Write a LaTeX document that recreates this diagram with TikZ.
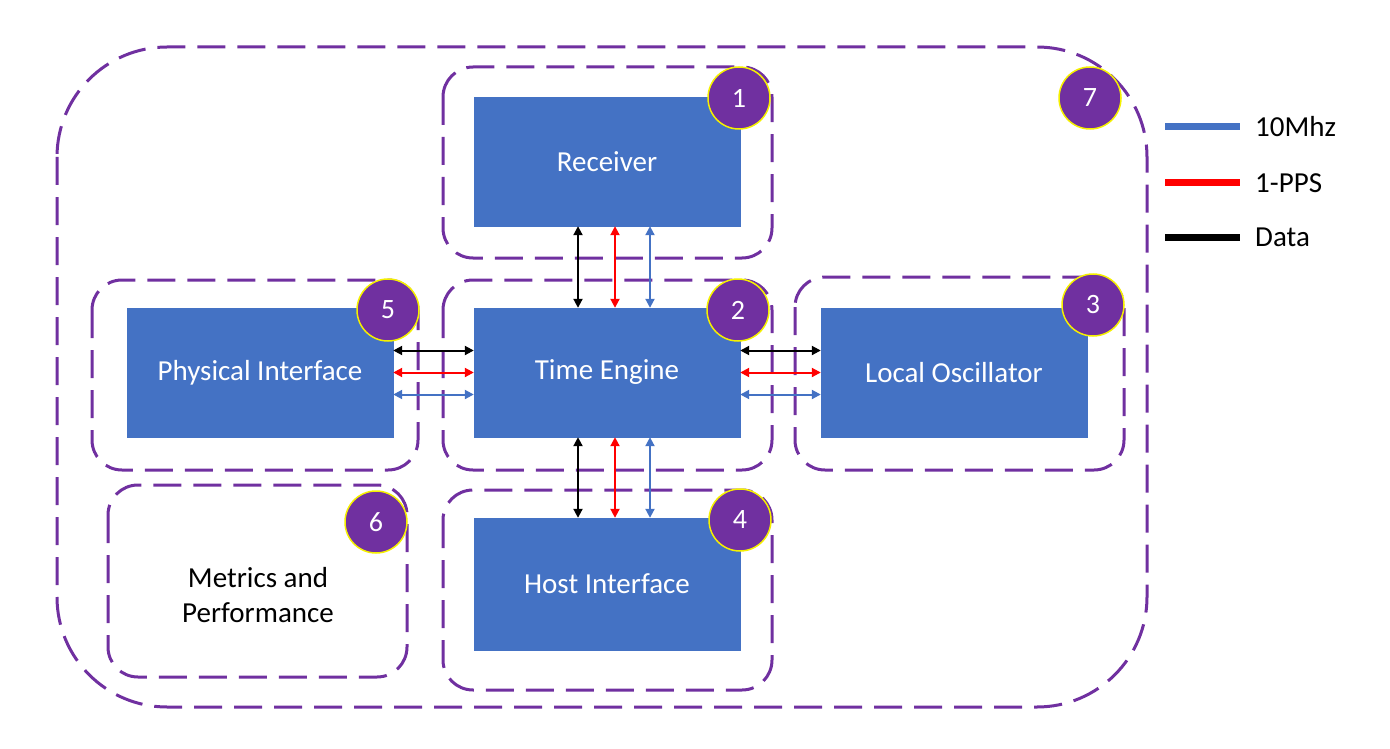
\documentclass[tikz,border=0pt]{standalone}
\usepackage{fontspec}
\setmainfont{Carlito}
\usetikzlibrary{calc,arrows.meta}
\definecolor{boxblue}{HTML}{4472C4}
\definecolor{grpurple}{HTML}{7030A0}
\definecolor{badgey}{HTML}{F5F000}
\tikzset{
  grp/.style={draw=grpurple, line width=3pt, dash pattern=on 28pt off 12pt, rounded corners=30pt},
  blk/.style={fill=boxblue, draw=boxblue, text=white, minimum width=266pt, minimum height=129pt, inner sep=0pt, font=\fontsize{29}{35}\selectfont},
  badge/.style={circle, fill=grpurple, draw=badgey, line width=1.5pt, minimum size=62pt, inner sep=0pt, text=white, font=\fontsize{28}{33}\selectfont},
  conn/.style={line width=2pt, {Triangle[length=9pt,width=9pt]}-{Triangle[length=9pt,width=9pt]}},
  leg/.style={line width=7pt},
  legtxt/.style={anchor=west, font=\fontsize{29}{35}\selectfont, inner sep=0pt}
}
\begin{document}
\begin{tikzpicture}[x=1pt,y=-1pt]
\useasboundingbox (0,0) rectangle (1390,749);
% groups
\draw[grp, rounded corners=110pt] (57,47) rectangle (1147,707);
\draw[grp] (443,67) rectangle (772,258);
\draw[grp] (443,280) rectangle (772,470);
\draw[grp] (795,277) rectangle (1124,470);
\draw[grp] (92,280) rectangle (418,470);
\draw[grp] (443,490) rectangle (772,690);
\draw[grp] (108,485) rectangle (407,677);
% blocks
\node[blk] (rec) at (607,161.5) {Receiver};
\node[blk] (te) at (607,372.5) {Time Engine};
\node[blk] (lo) at (954,372.5) {Local Oscillator};
\node[blk] (pi) at (260,372.5) {Physical Interface};
\node[blk, minimum height=132pt] (hi) at (607,584) {Host Interface};
\node[font=\fontsize{29}{35}\selectfont, align=center] (mp) at (258,595) {Metrics and\\Performance};
% connectors
\foreach \dx/\col in {-29/black, 8/red, 43/boxblue} {
  \draw[conn, draw=\col, fill=\col] ($(rec.south)+(\dx,0)$) -- ($(te.north)+(\dx,0)$);
  \draw[conn, draw=\col, fill=\col] ($(te.south)+(\dx,0)$) -- ($(hi.north)+(\dx,0)$);
}
\foreach \dy/\col in {-22/black, 0/red, 22/boxblue} {
  \draw[conn, draw=\col, fill=\col] ($(pi.east)+(0,\dy)$) -- ($(te.west)+(0,\dy)$);
  \draw[conn, draw=\col, fill=\col] ($(te.east)+(0,\dy)$) -- ($(lo.west)+(0,\dy)$);
}
% badges
\node[badge] (b1) at (739,98) {1};
\node[badge] (b2) at (738,310) {2};
\node[badge] (b3) at (1093,305) {3};
\node[badge] (b4) at (740,520) {4};
\node[badge] (b5) at (388,310) {5};
\node[badge] (b6) at (376,522) {6};
\node[badge] (b7) at (1090,98) {7};
% legend
\coordinate (l1a) at (1165,127); \coordinate (l1b) at (1240,127);
\coordinate (l2a) at (1165,183); \coordinate (l2b) at (1240,183);
\coordinate (l3a) at (1165,237); \coordinate (l3b) at (1240,237);
\draw[leg, boxblue] (l1a) -- (l1b);
\draw[leg, red] (l2a) -- (l2b);
\draw[leg, black] (l3a) -- (l3b);
\node[legtxt] (t1) at (1255,127) {10Mhz};
\node[legtxt] (t2) at (1255,183) {1-PPS};
\node[legtxt] (t3) at (1255,237) {Data};
\end{tikzpicture}
\end{document}
